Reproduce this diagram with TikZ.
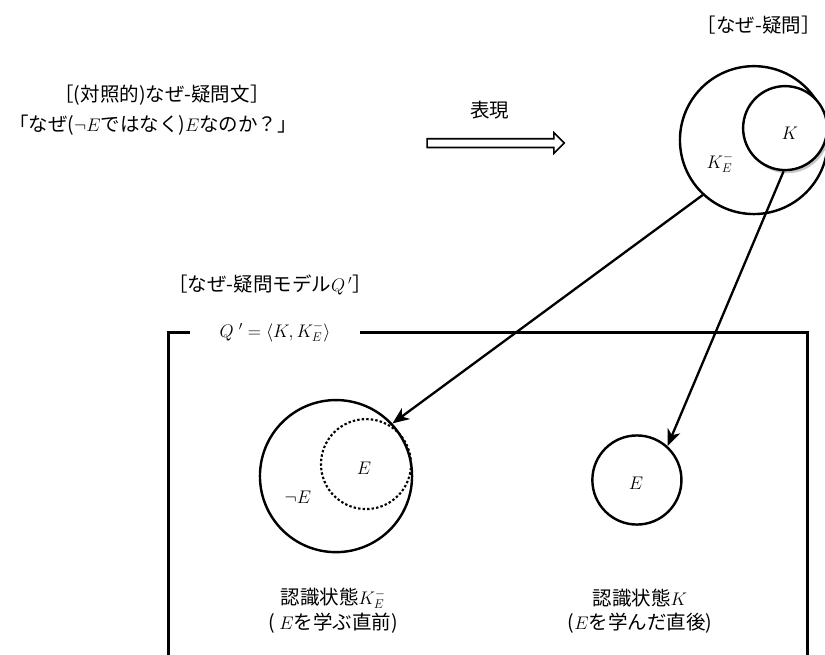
\documentclass[tikz,border=0pt]{standalone}
\usepackage{fontspec}
\setmainfont{Noto Sans CJK JP}
\usetikzlibrary{arrows.meta,shapes.arrows,shadows}
\tikzset{
  txt/.style={font=\fontsize{18.5}{21.5}\selectfont, inner sep=1pt, align=center},
  state/.style={draw, circle, line width=2.3pt, inner sep=0pt},
  frame/.style={line width=2.8pt},
  flow/.style={-{Stealth[length=5.5mm, width=4.5mm, inset=1.6mm]}, line width=2.2pt},
}

\begin{document}
\begin{tikzpicture}
  \useasboundingbox (0,0) rectangle (27.5,-21.833);
    % question sentence side
    \node[txt] (qtitle) at (5.40,-3.17) {［(対照的)なぜ-疑問文］};
    \node[txt] (qtext) at (5.10,-4.17) {「なぜ($\neg E$ではなく)$E$なのか？」};
    \node[txt] (exptxt) at (16.33,-3.67) {表現};
    \node[single arrow, draw, line width=1.5pt, minimum height=4.57cm, inner xsep=0pt, inner ysep=0.12cm, single arrow head extend=0.2cm] (express) at (16.45,-4.77) {};
    % why-question
    \node[txt, anchor=east] (wtitle) at (27.40,-0.83) {［なぜ-疑問］};
    \node[state, minimum size=4.93cm] (kminus) at (25.13,-4.67) {};
    \node[state, fill=white, minimum size=2.8cm, drop shadow={shadow xshift=2pt, shadow yshift=-3pt, opacity=0.45}] (kset) at (26.17,-4.27) {};
    \node[txt] (kminuslbl) at (24.00,-5.43) {$K_E^{-}$};
    \node[txt] (ksetlbl) at (26.33,-4.43) {$K$};
    % model frame
    \node[txt] (mtitle) at (9.00,-9.50) {［なぜ-疑問モデル$Q\,'$］};
    \draw[frame] (5.63,-11.07) rectangle (26.93,-22.60);
    \node[txt, fill=white, minimum width=5.67cm] (mlabel) at (9.17,-11.07) {$Q\;' = \langle K, K_E^{-}\rangle$};
    \node[state, minimum size=5.07cm] (before) at (11.20,-15.87) {};
    \node[state, dotted, line width=2pt, minimum size=3.0cm] (eset) at (12.20,-15.47) {};
    \node[txt] (elbl) at (12.13,-15.60) {$E$};
    \node[txt] (nelbl) at (9.93,-16.57) {$\neg E$};
    \node[state, minimum size=2.97cm] (after) at (21.23,-16.00) {};
    \node[txt] (elbl2) at (21.20,-16.10) {$E$};
    \node[txt, inner sep=0pt] (beforelbl) at (11.10,-19.95) {認識状態$K_E^{-}$};
    \node[txt, inner sep=0pt] (beforelbl2) at (11.10,-20.78) {( $E$を学ぶ直前)};
    \node[txt, inner sep=0pt] (afterlbl) at (21.33,-19.95) {認識状態$K$};
    \node[txt, inner sep=0pt] (afterlbl2) at (21.33,-20.78) {($E$を学んだ直後)};
    \draw[flow] (kminus.227) -- (before.43);
    \draw[flow] (kset.268) -- (after.48);
  \end{tikzpicture}
\end{document}
